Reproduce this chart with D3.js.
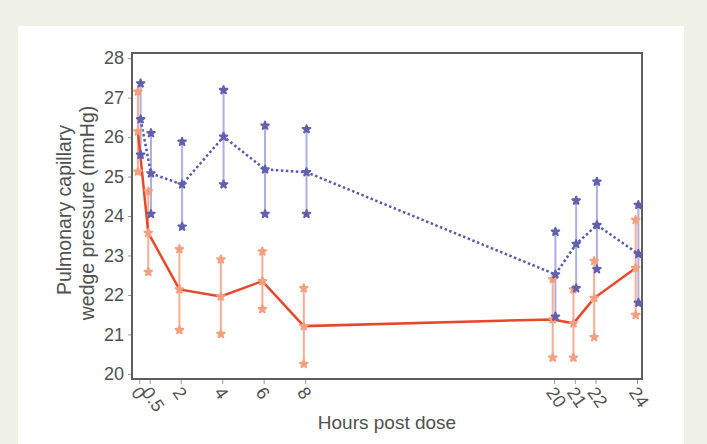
<!DOCTYPE html>
<html>
<head>
<meta charset="utf-8">
<script src="https://cdn.jsdelivr.net/npm/d3@7"></script>
<style>
  body { margin: 0; background: #eff0e6; }
  svg { display: block; font-family: "Liberation Sans", Arial, sans-serif; }
</style>
</head>
<body>
<svg width="707" height="444"></svg>
<script>
// hours post dose
const hours = [0, 0.5, 2, 4, 6, 8, 20, 21, 22, 24];
const xTicks = [0, 0.5, 2, 4, 6, 8, 20, 21, 22, 24];
const yTicks = [20, 21, 22, 23, 24, 25, 26, 27, 28];

// blue dotted series
const blueMean  = [26.45, 25.08, 24.80, 26.01, 25.18, 25.11, 22.52, 23.29, 23.77, 23.04];
const blueUpper = [27.36, 26.10, 25.88, 27.19, 26.29, 26.20, 23.60, 24.39, 24.87, 24.28];
const blueLower = [25.55, 24.05, 23.73, 24.80, 24.05, 24.05, 21.45, 22.17, 22.65, 21.80];

// red solid series
const redMean  = [26.14, 23.57, 22.14, 21.96, 22.35, 21.21, 21.38, 21.28, 21.92, 22.68];
const redUpper = [27.15, 24.62, 23.16, 22.90, 23.10, 22.17, 22.40, 22.14, 22.86, 23.90];
const redLower = [25.12, 22.58, 21.11, 21.01, 21.64, 20.25, 20.41, 20.41, 20.93, 21.49];

const svg = d3.select("svg");

// page background + white panel
svg.append("rect").attr("width", 707).attr("height", 444).attr("fill", "#eff0e6");
svg.append("rect").attr("x", 18).attr("y", 26).attr("width", 666).attr("height", 430).attr("fill", "#fff");

const frame = { left: 132, right: 642, top: 53, bottom: 379 };

const x = d3.scaleLinear().domain([-0.35, 24.24]).range([frame.left, frame.right]);
const y = d3.scaleLinear().domain([19.87, 28.13]).range([frame.bottom, frame.top]);

const dodge = 0.065;
const textColor = "#505050";

// y axis
const yAxis = svg.append("g")
    .attr("transform", "translate(" + frame.left + ",0)")
    .call(d3.axisLeft(y).tickValues(yTicks).tickSize(4).tickPadding(4));
yAxis.select(".domain").remove();
yAxis.selectAll("line").attr("stroke", "#999");
yAxis.selectAll("text").attr("fill", textColor).style("font-size", "18px")
    .style("font-family", "'Liberation Sans', Arial, sans-serif");

// x axis
const xAxis = svg.append("g")
    .attr("transform", "translate(0," + frame.bottom + ")")
    .call(d3.axisBottom(x).tickValues(xTicks).tickSize(5).tickFormat(d => d));
xAxis.select(".domain").remove();
xAxis.selectAll("line").attr("stroke", "#999");
xAxis.selectAll("text")
    .attr("fill", textColor)
    .style("font-size", "18px")
    .style("font-family", "'Liberation Sans', Arial, sans-serif")
    .style("text-anchor", "start")
    .attr("y", 0).attr("dy", "0.35em")
    .attr("transform", "translate(-4,10) rotate(55)");

// frame
svg.append("rect")
    .attr("x", frame.left).attr("y", frame.top)
    .attr("width", frame.right - frame.left).attr("height", frame.bottom - frame.top)
    .attr("fill", "none").attr("stroke", "#5e5e5e").attr("stroke-width", 2);

// axis titles
svg.append("text")
    .attr("x", (frame.left + frame.right) / 2).attr("y", 429)
    .attr("text-anchor", "middle").attr("fill", textColor).style("font-size", "19px")
    .text("Hours post dose");

const yTitle = svg.append("g").attr("fill", textColor).style("font-size", "19.5px");
yTitle.append("text").attr("transform", "translate(71,210) rotate(-90)")
    .attr("text-anchor", "middle").text("Pulmonary capillary");
yTitle.append("text").attr("transform", "translate(94,213) rotate(-90)")
    .attr("text-anchor", "middle").text("wedge pressure (mmHg)");

const plot = svg.append("g");

function series(mean, upper, lower, off) {
    return hours.map((h, i) => ({ h: h + off, m: mean[i], u: upper[i], l: lower[i] }));
}
const red = series(redMean, redUpper, redLower, -dodge);
const blue = series(blueMean, blueUpper, blueLower, dodge);

// error bars
function bars(data, color) {
    plot.append("g").selectAll("line").data(data).join("line")
        .attr("x1", d => x(d.h)).attr("x2", d => x(d.h))
        .attr("y1", d => y(d.u)).attr("y2", d => y(d.l))
        .attr("stroke", color).attr("stroke-width", 2);
}
bars(red, "#f7ad94");
bars(blue, "#aeaee0");

const line = d3.line().x(d => x(d.h)).y(d => y(d.m));

plot.append("path").datum(blue)
    .attr("d", line).attr("fill", "none")
    .attr("stroke", "#5a5aad").attr("stroke-width", 2.5)
    .attr("stroke-dasharray", "2.5,2.5");

plot.append("path").datum(red)
    .attr("d", line).attr("fill", "none")
    .attr("stroke", "#e8472a").attr("stroke-width", 2.5);

// markers at mean and bar ends
const star = d3.symbol().type(d3.symbolStar).size(18);
function markers(data, color) {
    const pts = [];
    data.forEach(d => { pts.push([d.h, d.u]); pts.push([d.h, d.m]); pts.push([d.h, d.l]); });
    plot.append("g").selectAll("path").data(pts).join("path")
        .attr("d", star)
        .attr("transform", d => "translate(" + x(d[0]) + "," + y(d[1]) + ")")
        .attr("fill", color).attr("stroke", color).attr("stroke-width", 2)
        .attr("stroke-linejoin", "round");
}
markers(red, "#f3a07f");
markers(blue, "#6060ad");
</script>
</body>
</html>
